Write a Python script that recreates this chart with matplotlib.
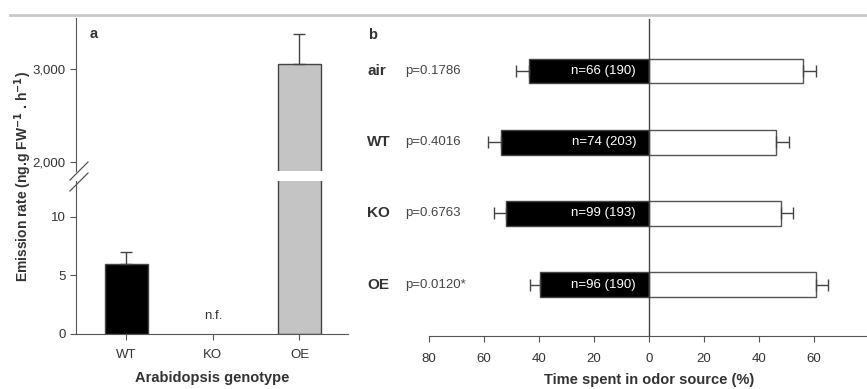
import matplotlib.pyplot as plt
from matplotlib.lines import Line2D

plt.rcParams['font.family'] = ['Liberation Sans', 'DejaVu Sans']

# Panel a: emission rate per genotype
genotypes = ['WT', 'KO', 'OE']
emission = [6.0, 0.0, 3054.0]
emission_err = [1.0, 0.0, 322.0]
bar_colors = ['black', 'white', '#c4c4c4']

# Panel b: time spent in odor source (%)
odors = ['air', 'WT', 'KO', 'OE']
pvals = ['p=0.1786', 'p=0.4016', 'p=0.6763', 'p=0.0120*']
ntext = ['n=66 (190)', 'n=74 (203)', 'n=99 (193)', 'n=96 (190)']
left_pct = [43.6, 53.9, 52.1, 39.5]
left_err = [4.8, 4.8, 4.1, 3.8]
right_pct = [56.0, 46.1, 47.9, 60.6]
right_err = [4.7, 4.8, 4.6, 4.5]

txt = '#333333'
axc = '#555555'
tsize = 9.5
bsize = 10.5

fig = plt.figure(figsize=(8.67, 3.89), dpi=100)
W, H = 867.0, 389.0

def box(x0, y0, x1, y1):
    return [x0 / W, 1 - y1 / H, (x1 - x0) / W, (y1 - y0) / H]

# gray rule at the top
fig.add_artist(Line2D([10 / W, 1], [1 - 15 / H, 1 - 15 / H], color='#c8c8c8', lw=2))

ax_lo = fig.add_axes(box(76, 181, 348, 334))
ax_hi = fig.add_axes(box(76, 18, 348, 171))
x = range(len(genotypes))
for ax in (ax_lo, ax_hi):
    ax.bar([0, 2], [emission[0], emission[2]], width=0.5, color=[bar_colors[0], bar_colors[2]],
           edgecolor='#444444', lw=1)
    ax.errorbar([0, 2], [emission[0], emission[2]], yerr=[[0, 0], [emission_err[0], emission_err[2]]],
                fmt='none', ecolor='#444444', elinewidth=1, capsize=4, capthick=1)
    ax.set_xlim(-0.58, 2.56)
    for s in ('top', 'right'):
        ax.spines[s].set_visible(False)
    ax.spines['left'].set_color(axc)
    ax.spines['bottom'].set_color(axc)
    ax.tick_params(colors=axc, labelcolor=txt, labelsize=tsize, length=4, width=0.8)
    ax.set_facecolor('none')

ax_lo.set_ylim(0, 13.04)
ax_lo.set_yticks([0, 5, 10])
ax_lo.set_xticks(list(x))
ax_lo.set_xticklabels(genotypes)
ax_lo.tick_params(axis='x', pad=7)
ax_lo.text(1, 1.0, 'n.f.', ha='center', va='bottom', fontsize=tsize, color=txt)
ax_lo.set_xlabel('Arabidopsis genotype', fontsize=bsize, fontweight='bold', color=txt, labelpad=7)

ax_hi.set_ylim(1903, 3548)
ax_hi.set_yticks([2000, 3000])
ax_hi.set_yticklabels(['2,000', '3,000'])
ax_hi.spines['bottom'].set_visible(False)
ax_hi.set_xticks([])
ax_hi.text(0.05, 0.87, 'a', transform=ax_hi.transAxes, fontsize=bsize, fontweight='bold', color=txt)

# axis break marks
for yb in (171, 182):
    fig.add_artist(Line2D([70 / W, 88 / W], [1 - (yb + 9) / H, 1 - (yb - 9) / H], color=axc, lw=0.9))

fig.text(23 / W, 1 - 177 / H, 'Emission rate (ng.g FW$^{\\mathbf{-1}}$ . h$^{\\mathbf{-1}}$)',
         rotation=90, ha='center', va='center', fontsize=10, fontweight='bold', color=txt)

# Panel b
axb = fig.add_axes(box(429, 19, 869, 336))
ypos = [3, 2, 1, 0]
axb.barh(ypos, [-v for v in left_pct], height=0.35, color='black', edgecolor='#444444', lw=1)
axb.barh(ypos, right_pct, height=0.35, color='white', edgecolor='#555555', lw=1)
axb.errorbar([-v for v in left_pct], ypos, xerr=[left_err, [0] * 4], fmt='none',
             ecolor='#444444', elinewidth=1, capsize=4, capthick=1)
axb.errorbar(right_pct, ypos, xerr=[[0] * 4, right_err], fmt='none',
             ecolor='#444444', elinewidth=1, capsize=4, capthick=1)
axb.axvline(0, color='#444444', lw=1)
axb.set_xlim(-80, 80)
axb.set_ylim(-0.72, 3.73)
for s in ('top', 'right', 'left'):
    axb.spines[s].set_visible(False)
axb.spines['bottom'].set_color(axc)
axb.set_yticks([])
ticks = [-80, -60, -40, -20, 0, 20, 40, 60]
axb.set_xticks(ticks)
axb.set_xticklabels([str(abs(t)) for t in ticks])
axb.tick_params(colors=axc, labelcolor=txt, labelsize=tsize, length=4, width=0.8, pad=8)
axb.set_xlabel('Time spent in odor source (%)', fontsize=bsize, fontweight='bold', color=txt, labelpad=6)
axb.set_facecolor('none')

for yp, lab, p, n in zip(ypos, odors, pvals, ntext):
    axb.text(-102.5, yp, lab, ha='left', va='center', fontsize=11, fontweight='bold', color=txt, clip_on=False)
    axb.text(-88.7, yp, p, ha='left', va='center', fontsize=tsize, color='#444444', clip_on=False)
    axb.text(-4.7, yp, n, ha='right', va='center', fontsize=tsize, color='white')

axb.text(-102.2, 3.5, 'b', ha='left', va='center', fontsize=bsize, fontweight='bold', color=txt, clip_on=False)

fig.savefig('out.png', dpi=100)
